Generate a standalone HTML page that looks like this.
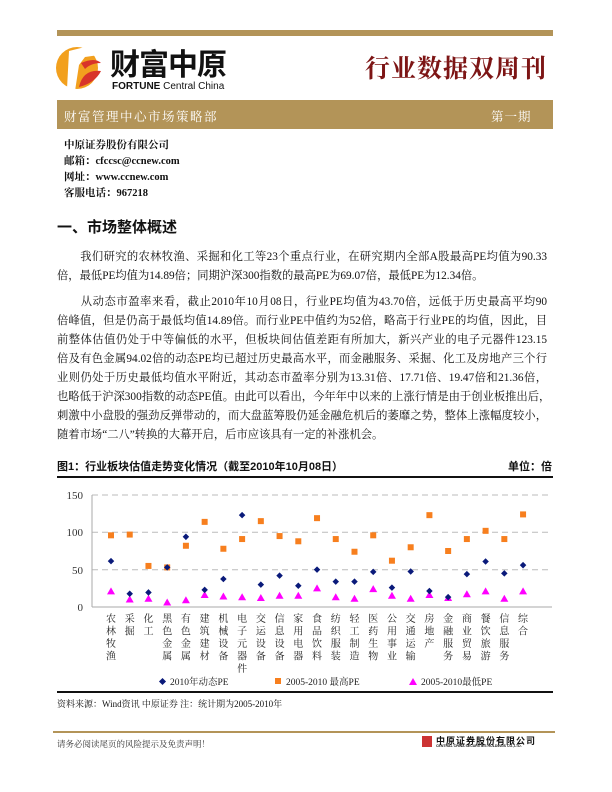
<!DOCTYPE html>
<html><head><meta charset="utf-8">
<style>
body{margin:0;width:612px;height:792px;position:relative;background:#fff;font-family:"Liberation Serif","Noto Serif CJK SC",serif;color:#111;overflow:hidden}
.a{position:absolute;white-space:nowrap}
.p{position:absolute;left:57px;width:490px;font-size:11.3px;line-height:19px;text-align:justify;text-align-last:justify;white-space:nowrap}
.s{font-family:"Liberation Sans","Noto Sans CJK SC",sans-serif}
</style></head><body>
<div class="a" style="left:57px;top:30px;width:496px;height:6px;background:#b39458"></div>
<svg class="a" style="left:55px;top:43px" width="50" height="52">
<circle cx="22" cy="25" r="21" fill="#f2a01e"/>
<path d="M14 8 L30 4 L44 12 L30 14 L24 22 L20 48 L12 46 Z" fill="#fff"/>
<path d="M26 20 Q40 14 46 20 Q36 20 30 26 Z" fill="#d8342a"/>
<path d="M24 44 Q28 26 46 28 Q40 40 24 44 Z" fill="#d8342a"/>
</svg>
<div class="a s" style="left:110px;top:49px;font-size:30px;font-weight:bold;letter-spacing:-1px;line-height:34px">财富中原</div>
<div class="a s" style="left:112px;top:81px;font-size:10px;font-weight:bold;line-height:11px">FORTUNE<span style="font-weight:normal;font-family:'Liberation Sans Narrow','Liberation Sans',sans-serif"> Central China</span></div>
<div class="a" style="left:365px;top:54px;font-size:25px;color:#7d1515;font-weight:bold;letter-spacing:1px;line-height:32px">行业数据双周刊</div>
<div class="a" style="left:57px;top:100px;width:496px;height:29px;background:#b39458"></div>
<div class="a" style="left:64px;top:107px;font-size:12.5px;color:#fff;letter-spacing:1.5px">财富管理中心市场策略部</div>
<div class="a" style="left:491px;top:107px;font-size:12.5px;color:#fff;letter-spacing:1px">第一期</div>
<div class="a" style="left:64px;top:138px;font-size:10.5px;font-weight:bold;line-height:16px">中原证券股份有限公司<br>邮箱：cfccsc@ccnew.com<br>网址：www.ccnew.com<br>客服电话：967218</div>
<div class="a s" style="left:57px;top:216px;font-size:15px;font-weight:bold">一、市场整体概述</div>
<div class="p" style="top:248px">　　我们研究的农林牧渔、采掘和化工等23个重点行业，在研究期内全部A股最高PE均值为90.33</div>
<div class="p" style="top:267px;text-align-last:left">倍，最低PE均值为14.89倍；同期沪深300指数的最高PE为69.07倍，最低PE为12.34倍。</div>
<div class="p" style="top:293px">　　从动态市盈率来看，截止2010年10月08日，行业PE均值为43.70倍，远低于历史最高平均90</div>
<div class="p" style="top:312px">倍峰值，但是仍高于最低均值14.89倍。而行业PE中值约为52倍，略高于行业PE的均值，因此，目</div>
<div class="p" style="top:331px">前整体估值仍处于中等偏低的水平，但板块间估值差距有所加大，新兴产业的电子元器件123.15</div>
<div class="p" style="top:350px">倍及有色金属94.02倍的动态PE均已超过历史最高水平，而金融服务、采掘、化工及房地产三个行</div>
<div class="p" style="top:369px">业则仍处于历史最低均值水平附近，其动态市盈率分别为13.31倍、17.71倍、19.47倍和21.36倍，</div>
<div class="p" style="top:388px">也略低于沪深300指数的动态PE值。由此可以看出，今年年中以来的上涨行情是由于创业板推出后，</div>
<div class="p" style="top:407px">刺激中小盘股的强劲反弹带动的，而大盘蓝筹股仍延金融危机后的萎靡之势，整体上涨幅度较小，</div>
<div class="p" style="top:426px;text-align-last:left">随着市场“二八”转换的大幕开启，后市应该具有一定的补涨机会。</div>
<div class="a s" style="left:57px;top:458px;font-size:11px;font-weight:bold">图1：行业板块估值走势变化情况（截至2010年10月08日）</div>
<div class="a s" style="left:508px;top:458px;font-size:11px;font-weight:bold">单位：倍</div>
<div class="a" style="left:57px;top:476px;width:496px;height:2px;background:#111"></div>
<div class="a" style="left:57px;top:691px;width:496px;height:2px;background:#111"></div>
<div class="a" style="left:57px;top:697px;font-size:9px">资料来源：Wind资讯 中原证券 注：统计期为2005-2010年</div>
<div class="a" style="left:53px;top:731px;width:502px;height:1.5px;background:#b39458"></div>
<div class="a" style="left:57px;top:738px;font-size:8.5px;color:#333">请务必阅读尾页的风险提示及免责声明！</div>
<div class="a" style="left:422px;top:736px;width:10px;height:11px;background:#c33"></div>
<div class="a s" style="left:436px;top:734px;font-size:9px;font-weight:bold;letter-spacing:1px">中原证券股份有限公司</div>
<div class="a s" style="left:436px;top:744px;font-size:3.5px;font-weight:bold">CENTRAL CHINA SECURITIES HOLDINGS CO.,LTD.</div>
<svg class="a" style="left:0;top:0" width="612" height="792">
<g font-family="Liberation Serif, Noto Serif CJK SC, serif" font-size="11" fill="#333">
<line x1="92" y1="495" x2="552" y2="495" stroke="#bbb" stroke-dasharray="6,4"/>
<line x1="92" y1="532.3" x2="552" y2="532.3" stroke="#bbb" stroke-dasharray="6,4"/>
<line x1="92" y1="569.7" x2="552" y2="569.7" stroke="#bbb" stroke-dasharray="6,4"/>
<line x1="92" y1="607" x2="552" y2="607" stroke="#aaa"/>
<line x1="92" y1="495" x2="92" y2="607" stroke="#aaa"/>
<text x="83" y="499" text-anchor="end">150</text>
<text x="83" y="536" text-anchor="end">100</text>
<text x="83" y="574" text-anchor="end">50</text>
<text x="83" y="611" text-anchor="end">0</text>
</g>
<g id="pts"></g>
<g font-family="Liberation Serif, Noto Serif CJK SC, serif" font-size="9.5" fill="#222">
<rect x="160" y="679" width="5" height="5" transform="rotate(45 162.5 681.5)" fill="#0a1a7a"/>
<text x="170" y="685">2010年动态PE</text>
<rect x="275" y="678" width="6" height="6" fill="#f77f1e"/>
<text x="286" y="685">2005-2010 最高PE</text>
<polygon points="413,678 417,685 409,685" fill="#f0f"/>
<text x="421" y="685">2005-2010最低PE</text>
</g>
<g id="lab" font-family="Liberation Serif, Noto Serif CJK SC, serif" font-size="10" fill="#222" text-anchor="middle"></g>
</svg>
<script>
var L=["农林牧渔","采掘","化工","黑色金属","有色金属","建筑建材","机械设备","电子元器件","交运设备","信息设备","家用电器","食品饮料","纺织服装","轻工制造","医药生物","公用事业","交通运输","房地产","金融服务","商业贸易","餐饮旅游","信息服务","综合"];
var D=[61.5,17.7,19.5,53,94,23,37.5,123,30,42,28.5,50,34,34,47,26,47.5,21.4,13.3,44,61,45,56];
var M=[96,97,55,53,82,114,78,91,115,95,88,119,91,74,96,62,80,123,75,91,102,91,124];
var N=[21,10,11,6,9,16,14,13,12,15,15,25,13,11,24,15,11,16,12,17,21,11,21];
var s="",t="";
function Y(v){return 607-v*0.7467}
for(var i=0;i<23;i++){var x=111+18.73*i;
s+='<rect x="'+(x-3)+'" y="'+(Y(M[i])-3)+'" width="6" height="6" fill="#f77f1e"/>';
s+='<polygon points="'+x+','+(Y(N[i])-4)+' '+(x+4)+','+(Y(N[i])+3)+' '+(x-4)+','+(Y(N[i])+3)+'" fill="#f0f"/>';
s+='<rect x="'+(x-2.3)+'" y="'+(Y(D[i])-2.3)+'" width="4.6" height="4.6" transform="rotate(45 '+x+' '+Y(D[i])+')" fill="#0a1a7a"/>';
for(var j=0;j<L[i].length;j++)t+='<text x="'+x+'" y="'+(622+j*12.5)+'">'+L[i][j]+'</text>';}
document.getElementById("pts").innerHTML=s;document.getElementById("lab").innerHTML=t;
</script>
</body></html>
